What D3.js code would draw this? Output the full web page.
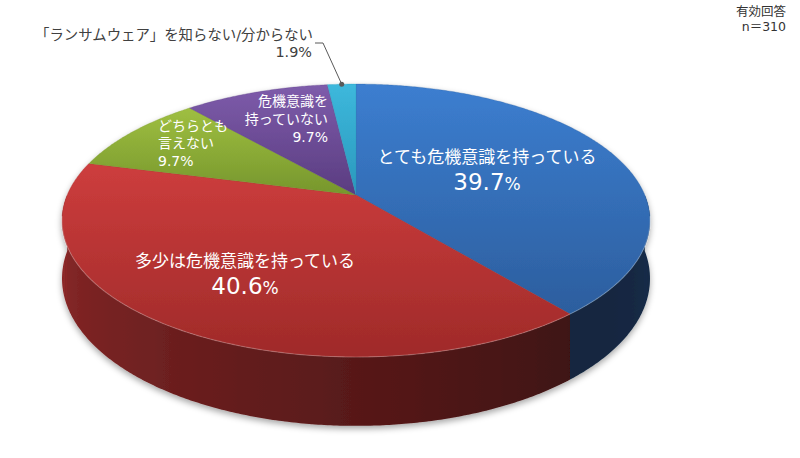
<!DOCTYPE html>
<html>
<head>
<meta charset="utf-8">
<script src="https://cdn.jsdelivr.net/npm/d3@7"></script>
<style>
  body { margin: 0; background: #fff; }
  svg { display: block; font-family: "DejaVu Sans", "Noto Sans CJK JP", sans-serif; }
</style>
</head>
<body>
<svg id="chart" width="800" height="458"></svg>
<script>
// data
var categories = ["とても危機意識を持っている", "多少は危機意識を持っている", "どちらとも言えない", "危機意識を持っていない", "「ランサムウェア」を知らない/分からない"];
var values = [39.7, 40.6, 9.7, 9.7, 1.9];
var labelLines = [["とても危機意識を持っている"], ["多少は危機意識を持っている"], ["どちらとも", "言えない"], ["危機意識を", "持っていない"], ["「ランサムウェア」を知らない/分からない"]];
var noteLines = ["有効回答", "n＝310"];

// styles
var topLight = ["#3c7ed0", "#cd3d3d", "#9fbf41", "#7e5cab", "#3db8dc"];
var topDark  = ["#2c5e9e", "#9f2a29", "#76962c", "#5a3c80", "#2a98bc"];
var sideBase = ["#3b7acb", "#c93a3a", "#9bbb3c", "#7d5aa6", "#3bb5d8"];

var svg = d3.select("#chart");

// perspective pie geometry
var cx = 356, cy = 195;   // projected centre of the top face
var rx = 288.8, ry = 131.7;
var persp = 0.187;        // foreshortening
var depth = 56;           // side height

function proj(a, r, z){
  var s = Math.sin(a), c = Math.cos(a);
  var w = 1 + persp * c * r;
  return [cx + rx * r * s / w, cy - ry * r * c / w + (z || 0) * depth / w];
}

var pie = d3.pie().sort(null).value(function(d){ return d; });
var arcs = pie(values);

var defs = svg.append("defs");
var shadow = defs.append("filter").attr("id", "shadow")
  .attr("x", "-10%").attr("y", "-10%").attr("width", "120%").attr("height", "130%");
shadow.append("feDropShadow").attr("dx", 0).attr("dy", 3)
  .attr("stdDeviation", 3).attr("flood-color", "#000").attr("flood-opacity", 0.35);

arcs.forEach(function(d, i){
  var g = defs.append("linearGradient").attr("id", "top" + i)
    .attr("x1", 0).attr("y1", 0).attr("x2", 0).attr("y2", 1);
  g.append("stop").attr("offset", "0%").attr("stop-color", topLight[i]);
  g.append("stop").attr("offset", "100%").attr("stop-color", topDark[i]);
});

var line = d3.line();
var pieG = svg.append("g").attr("filter", "url(#shadow)");

// side lighting: lighter on the left, darker toward the right
var light = d3.scaleLinear().domain([Math.PI * 0.5, Math.PI * 0.78, Math.PI * 1.5])
  .range([0.36, 0.31, 0.72]).clamp(true);

function shade(hex, f){
  var c = d3.rgb(hex);
  return d3.rgb(c.r * f, c.g * f, c.b * f).formatHex();
}

var sideG = pieG.append("g");
arcs.forEach(function(d, i){
  var a0 = Math.max(d.startAngle, Math.PI / 2), a1 = Math.min(d.endAngle, Math.PI * 1.5);
  if (a0 >= a1) return;
  var n = Math.ceil((a1 - a0) / (Math.PI / 360));
  var topEdge = [], botEdge = [];
  for (var k = 0; k <= n; k++){
    var a = a0 + (a1 - a0) * k / n;
    topEdge.push(proj(a, 1, 0));
    botEdge.push(proj(a, 1, 1));
  }
  var xs = topEdge.map(function(p){ return p[0]; });
  var xMin = d3.min(xs), xMax = d3.max(xs);
  var grad = defs.append("linearGradient").attr("id", "side" + i)
    .attr("gradientUnits", "userSpaceOnUse")
    .attr("x1", xMin).attr("y1", 0).attr("x2", xMax).attr("y2", 0);
  var stops = [];
  for (var k = 0; k <= n; k += 4){
    var a = a0 + (a1 - a0) * k / n;
    stops.push({ o: (proj(a, 1, 0)[0] - xMin) / (xMax - xMin), c: shade(sideBase[i], light(a)) });
  }
  stops.sort(function(p, q){ return p.o - q.o; });
  stops.forEach(function(s){
    grad.append("stop").attr("offset", s.o).attr("stop-color", s.c);
  });
  sideG.append("path")
    .attr("d", line(topEdge.concat(botEdge.reverse())) + "Z")
    .attr("fill", "url(#side" + i + ")");
});

var topG = pieG.append("g");
arcs.forEach(function(d, i){
  var pts = [proj(0, 0, 0)];
  var n = Math.max(2, Math.ceil((d.endAngle - d.startAngle) / (Math.PI / 360)));
  for (var k = 0; k <= n; k++){
    pts.push(proj(d.startAngle + (d.endAngle - d.startAngle) * k / n, 1, 0));
  }
  topG.append("path")
    .attr("d", line(pts) + "Z")
    .attr("fill", "url(#top" + i + ")")
    .attr("stroke", topDark[i]).attr("stroke-width", 0.3);
});

// rim highlight along the front edge
var rim = [];
for (var a = Math.PI * 0.55; a <= Math.PI * 1.45; a += Math.PI / 180) rim.push(proj(a, 1, 0));
topG.append("path").attr("d", line(rim)).attr("fill", "none")
  .attr("stroke", "#fff").attr("stroke-opacity", 0.22).attr("stroke-width", 1.2);

// labels
var fmt = d3.format(".1f");
var labelLayout = [
  { x: 487, anchor: "middle", lines: [163], value: 190, size: 17, big: true, color: "#fff" },
  { x: 245, anchor: "middle", lines: [267], value: 294, size: 17, big: true, color: "#fff" },
  { x: 158, anchor: "start", lines: [131, 148], value: 166, size: 14, color: "#fff" },
  { x: 328, anchor: "end", lines: [106, 124], value: 142, size: 14, color: "#fff" },
  { x: 35, anchor: "start", lines: [40], value: 57, valueX: 312, valueAnchor: "end", size: 14.4, color: "#404040" }
];

var labelG = svg.append("g");
arcs.forEach(function(d, i){
  var L = labelLayout[i];
  labelLines[i].forEach(function(t, j){
    labelG.append("text").attr("x", L.x).attr("y", L.lines[j])
      .attr("text-anchor", L.anchor).attr("fill", L.color)
      .style("font-size", L.size + "px").text(t);
  });
  var vt = labelG.append("text").attr("x", L.valueX || L.x).attr("y", L.value)
    .attr("text-anchor", L.valueAnchor || L.anchor).attr("fill", L.color)
    .style("font-size", (L.big ? 23 : L.size) + "px");
  vt.append("tspan").text(fmt(d.data));
  vt.append("tspan").style("font-size", (L.big ? 17 : L.size) + "px").text("%");
});

// leader for the smallest slice
var small = arcs[4];
var anchor = proj((small.startAngle + small.endAngle) / 2, 1, 0);
labelG.append("path")
  .attr("d", line([anchor, [323, 43], [315, 43]]))
  .attr("fill", "none").attr("stroke", "#595959").attr("stroke-width", 1);
labelG.append("circle").attr("cx", anchor[0]).attr("cy", anchor[1]).attr("r", 2.5).attr("fill", "#595959");

// sample note
noteLines.forEach(function(t, j){
  svg.append("text").attr("x", 786).attr("y", 16 + j * 15)
    .attr("text-anchor", "end").attr("fill", "#333")
    .style("font-size", "12.5px").text(t);
});
</script>
</body>
</html>
